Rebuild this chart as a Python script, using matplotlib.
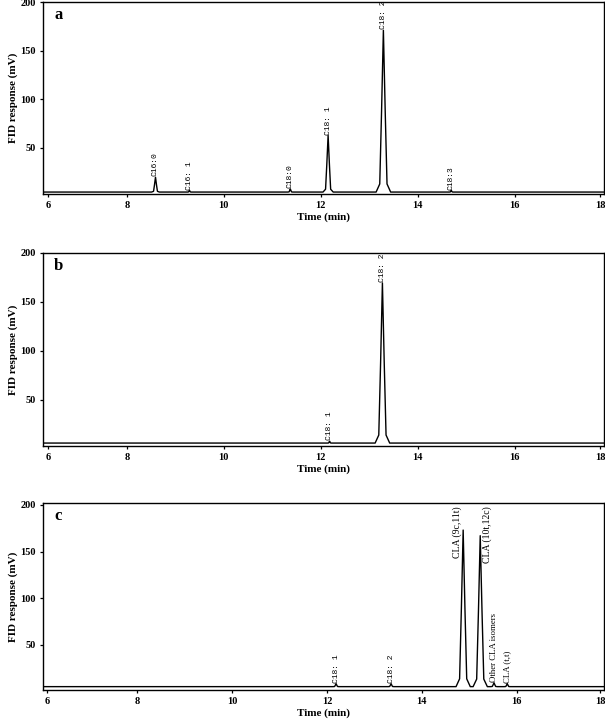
import matplotlib
matplotlib.use("Agg")
import matplotlib.pyplot as plt

# ---------------- data ----------------
# Panel a
names_a = ["C16:0", "C16: 1", "C18:0", "C18: 1", "C18: 2", "C18:3"]
times_a = [8.59, 9.29, 11.37, 12.15, 13.29, 14.69]
heights_a = [20, 6.5, 8, 63, 171, 6.5]
widths_a = [0.16, 0.08, 0.10, 0.21, 0.30, 0.08]
baseline_a = 4.7

# Panel b
names_b = ["C18: 1", "C18: 2"]
times_b = [12.18, 13.27]
heights_b = [8, 169.5]
widths_b = [0.08, 0.30]
baseline_b = 6.0

# Panel c
names_c = ["C18: 1", "C18: 2", "CLA (9c,11t)", "CLA (10t,12c)",
           "Other CLA isomers", "CLA (t,t)"]
times_c = [12.19, 13.35, 14.87, 15.23, 15.52, 15.80]
heights_c = [8.5, 8.5, 173, 167, 9.5, 8.5]
widths_c = [0.12, 0.12, 0.30, 0.30, 0.14, 0.12]
baseline_c = 5.3

x_ticks = [8, 10, 12, 14, 16]
x_tick_labels = ["8", "10", "12", "14", "16"]
y_ticks = [50, 100, 150, 200]
y_tick_labels = ["50", "100", "150", "200"]

# ---------------- style ----------------
SERIF = "Liberation Serif"
MONO = "Liberation Mono"
plt.rcParams["font.family"] = [SERIF, "DejaVu Serif"]

# peak outline: (fraction of half base width, fraction of peak height)
shape = [(-1.0, 0.0), (-0.5, 0.05), (-0.25, 0.5), (0.0, 1.0),
         (0.25, 0.5), (0.5, 0.05), (1.0, 0.0)]


def trace(times, heights, widths, base, xlim):
    xs = [xlim[0]]
    ys = [base]
    for t, h, w in sorted(zip(times, heights, widths)):
        for fx, fy in shape:
            xs.append(t + fx * w / 2)
            ys.append(base + fy * (h - base))
    xs.append(xlim[1])
    ys.append(base)
    return xs, ys


fig = plt.figure(figsize=(6.05, 7.24), dpi=100)

panels = [
    dict(letter="a", names=names_a, times=times_a, heights=heights_a,
         widths=widths_a, base=baseline_a, xlim=(6.27, 17.84),
         ylim=(2.7, 200), edges=(6.37, 17.76),
         rect=[43 / 605, 1 - 194 / 724, 561 / 605, 192 / 724]),
    dict(letter="b", names=names_b, times=times_b, heights=heights_b,
         widths=widths_b, base=baseline_b, xlim=(6.27, 17.84),
         ylim=(3.0, 200), edges=(6.37, 17.76),
         rect=[43 / 605, 1 - 446 / 724, 561 / 605, 193 / 724]),
    dict(letter="c", names=names_c, times=times_c, heights=heights_c,
         widths=widths_c, base=baseline_c, xlim=(6.01, 17.84),
         ylim=(1.7, 202), edges=(6.09, 17.76),
         rect=[43 / 605, 1 - 690 / 724, 561 / 605, 187 / 724]),
]

for p in panels:
    ax = fig.add_axes(p["rect"])
    xs, ys = trace(p["times"], p["heights"], p["widths"], p["base"], p["xlim"])
    ax.plot(xs, ys, color="black", lw=1.0)
    ax.set_xlim(*p["xlim"])
    ax.set_ylim(*p["ylim"])
    ax.set_xticks([p["edges"][0]] + x_ticks + [p["edges"][1]])
    ax.set_xticklabels(["6"] + x_tick_labels + ["18"])
    ax.set_yticks(y_ticks)
    ax.set_yticklabels(y_tick_labels)
    ax.tick_params(direction="out", length=2.5, width=0.9, pad=2.5,
                   labelsize=7.5)
    for lab in ax.get_xticklabels() + ax.get_yticklabels():
        lab.set_fontweight("bold")
        lab.set_family(SERIF)
    for s in ax.spines.values():
        s.set_linewidth(1.0)
    ax.set_xlabel("Time (min)", fontsize=8, fontweight="bold", labelpad=2)
    ax.set_ylabel("FID response (mV)", fontsize=8, fontweight="bold",
                  labelpad=2)
    ax.text(0.02, 0.975, p["letter"], transform=ax.transAxes, fontsize=12,
            fontweight="bold", va="top", ha="left")

    for name, t, h in zip(p["names"], p["times"], p["heights"]):
        if name.startswith("C1"):
            ax.text(t, h + 0.8, name, rotation=90, ha="center", va="bottom",
                    family=MONO, fontsize=5.8)
        elif name == "CLA (9c,11t)":
            ax.text(t - 0.13, 198, name, rotation=90, ha="center", va="top",
                    family=SERIF, fontsize=7)
        elif name == "CLA (10t,12c)":
            ax.text(t + 0.15, 198, name, rotation=90, ha="center", va="top",
                    family=SERIF, fontsize=7)
        else:
            ax.text(t, h + 0.8, name, rotation=90, ha="center", va="bottom",
                    family=SERIF, fontsize=6.3)

fig.savefig("out.png", dpi=100)
